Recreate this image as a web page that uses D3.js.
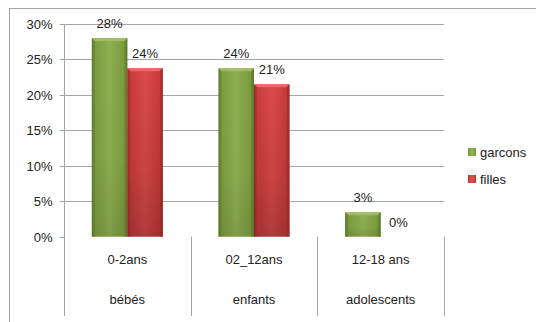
<!DOCTYPE html>
<html>
<head>
<meta charset="utf-8">
<script src="https://cdn.jsdelivr.net/npm/d3@7"></script>
<style>
  html, body { margin: 0; padding: 0; background: #fff; }
  svg { display: block; font-family: "Liberation Sans", Arial, sans-serif; }
</style>
</head>
<body>
<svg id="chart" width="536" height="322"></svg>
<script>
// Age groups (two-level category axis) and the two series
const ageRanges = ["0-2ans", "02_12ans", "12-18 ans"];
const ageNames = ["bébés", "enfants", "adolescents"];
const seriesNames = ["garcons", "filles"];
const garcons = [0.28, 0.2375, 0.0344];
const filles = [0.2375, 0.2149, 0];
const yTicks = [0, 0.05, 0.10, 0.15, 0.20, 0.25, 0.30];

const seriesValues = [garcons, filles];
const palette = {
  garcons: { light: "#8fae52", mid: "#7b9a3d", dark: "#5c7a2a", top: "#a4c267" },
  filles:  { light: "#dc4a4a", mid: "#c93b3b", dark: "#9c2b2b", top: "#ea7070" }
};

const svg = d3.select("#chart");
const plot = { left: 64, right: 444, top: 24, bottom: 236.7 };

// outer chart frame (runs past the right and bottom edges)
svg.append("rect")
  .attr("x", 9.5).attr("y", 8.5)
  .attr("width", 620).attr("height", 400)
  .attr("fill", "none").attr("stroke", "#a6a6a6");

const x0 = d3.scaleBand().domain(ageRanges).range([plot.left, plot.right]).padding(0);
const x1 = d3.scaleBand().domain(seriesNames).range([0, x0.bandwidth()])
  .paddingInner(0).paddingOuter(0.784);
const y = d3.scaleLinear().domain([0, 0.30]).range([plot.bottom, plot.top]);

// gradients for the bevelled bars
const defs = svg.append("defs");
seriesNames.forEach(s => {
  const c = palette[s];
  const g = defs.append("linearGradient").attr("id", "grad-" + s)
    .attr("x1", "0").attr("x2", "1").attr("y1", "0").attr("y2", "0");
  g.append("stop").attr("offset", "0").attr("stop-color", c.dark);
  g.append("stop").attr("offset", "0.08").attr("stop-color", c.mid);
  g.append("stop").attr("offset", "0.5").attr("stop-color", c.light);
  g.append("stop").attr("offset", "0.92").attr("stop-color", c.mid);
  g.append("stop").attr("offset", "1").attr("stop-color", c.dark);
  const v = defs.append("linearGradient").attr("id", "shade-" + s)
    .attr("x1", "0").attr("x2", "0").attr("y1", "0").attr("y2", "1");
  v.append("stop").attr("offset", "0").attr("stop-color", "#000").attr("stop-opacity", 0);
  v.append("stop").attr("offset", "0.6").attr("stop-color", "#000").attr("stop-opacity", s === "filles" ? 0.08 : 0.02);
  v.append("stop").attr("offset", "1").attr("stop-color", "#000").attr("stop-opacity", s === "filles" ? 0.2 : 0.1);
});

// horizontal gridlines and value axis
const yAxis = d3.axisLeft(y).tickValues(yTicks).tickFormat(d3.format(".0%"))
  .tickSize(5).tickPadding(7);
svg.append("g").attr("class", "grid")
  .selectAll("line").data(yTicks.filter(d => d > 0)).join("line")
  .attr("x1", plot.left).attr("x2", plot.right)
  .attr("y1", d => Math.round(y(d)) + 0.5).attr("y2", d => Math.round(y(d)) + 0.5)
  .attr("stroke", "#a6a6a6");

const ya = svg.append("g").attr("transform", `translate(${plot.left + 0.5},0.5)`).call(yAxis);
ya.select(".domain").remove();
ya.selectAll(".tick line").attr("stroke", "#a6a6a6");
ya.selectAll(".tick text").attr("font-size", 13).attr("fill", "#222")
  .attr("font-family", "Liberation Sans, Arial, sans-serif");
ya.selectAll(".tick").attr("transform", d => `translate(0,${Math.round(y(d))})`);

// left axis line and category dividers
const divs = [plot.left, ...ageRanges.map(a => x0(a) + x0.bandwidth())];
svg.append("line").attr("x1", plot.left + 0.5).attr("x2", plot.left + 0.5)
  .attr("y1", plot.top).attr("y2", 316).attr("stroke", "#a6a6a6");
svg.selectAll(".divider").data(divs.slice(1)).join("line")
  .attr("class", "divider")
  .attr("x1", d => Math.round(d) + 0.5).attr("x2", d => Math.round(d) + 0.5)
  .attr("y1", plot.bottom).attr("y2", 316).attr("stroke", "#a6a6a6");

// bars
const groups = svg.append("g").selectAll("g").data(ageRanges).join("g")
  .attr("transform", d => `translate(${x0(d)},0)`);

const barData = (a, i) => seriesNames.map((s, k) => ({ s, v: seriesValues[k][i] }));

groups.each(function(a, i) {
  const g = d3.select(this);
  barData(a, i).forEach(d => {
    const bx = x1(d.s), bw = x1.bandwidth();
    const top = y(d.v), h = y(0) - y(d.v);
    if (h <= 0) return;
    g.append("rect").attr("x", bx).attr("y", top).attr("width", bw).attr("height", h)
      .attr("fill", `url(#grad-${d.s})`);
    g.append("rect").attr("x", bx).attr("y", top).attr("width", bw).attr("height", h)
      .attr("fill", `url(#shade-${d.s})`);
    // bevel highlight along the top edge
    const b = 3;
    g.append("path")
      .attr("d", `M${bx},${top}L${bx + bw},${top}L${bx + bw - b},${top + b}L${bx + b},${top + b}Z`)
      .attr("fill", palette[d.s].top).attr("opacity", 0.85);
    g.append("path")
      .attr("d", `M${bx},${top}L${bx + b},${top + b}L${bx + b},${top + h}L${bx},${top + h}Z`)
      .attr("fill", palette[d.s].dark).attr("opacity", 0.35);
    g.append("path")
      .attr("d", `M${bx + bw},${top}L${bx + bw - b},${top + b}L${bx + bw - b},${top + h}L${bx + bw},${top + h}Z`)
      .attr("fill", palette[d.s].dark).attr("opacity", 0.45);
  });
  // value labels
  g.selectAll("text.val").data(barData(a, i)).join("text")
    .attr("class", "val")
    .attr("x", d => x1(d.s) + x1.bandwidth() / 2)
    .attr("y", d => y(d.v) - 10)
    .attr("text-anchor", "middle")
    .attr("font-size", 13).attr("fill", "#222")
    .text(d => d3.format(".0%")(d.v));
});

// two-level category labels
svg.selectAll(".cat1").data(ageRanges).join("text")
  .attr("class", "cat1")
  .attr("x", d => x0(d) + x0.bandwidth() / 2).attr("y", 264)
  .attr("text-anchor", "middle").attr("font-size", 13).attr("fill", "#222")
  .text(d => d);
svg.selectAll(".cat2").data(ageNames).join("text")
  .attr("class", "cat2")
  .attr("x", (d, i) => x0(ageRanges[i]) + x0.bandwidth() / 2).attr("y", 304)
  .attr("text-anchor", "middle").attr("font-size", 13).attr("fill", "#222")
  .text(d => d);

// legend
const legend = svg.append("g").selectAll("g").data(seriesNames).join("g")
  .attr("transform", (d, i) => `translate(468,${152 + i * 27})`);
legend.append("rect").attr("x", 0).attr("y", -4).attr("width", 8).attr("height", 8)
  .attr("fill", d => `url(#grad-${d})`);
legend.append("rect").attr("x", 1.5).attr("y", -2.5).attr("width", 5).attr("height", 5)
  .attr("fill", d => palette[d].light);
legend.append("text").attr("x", 12).attr("y", 0).attr("dy", "0.35em")
  .attr("font-size", 13).attr("fill", "#222").text(d => d);
</script>
</body>
</html>
